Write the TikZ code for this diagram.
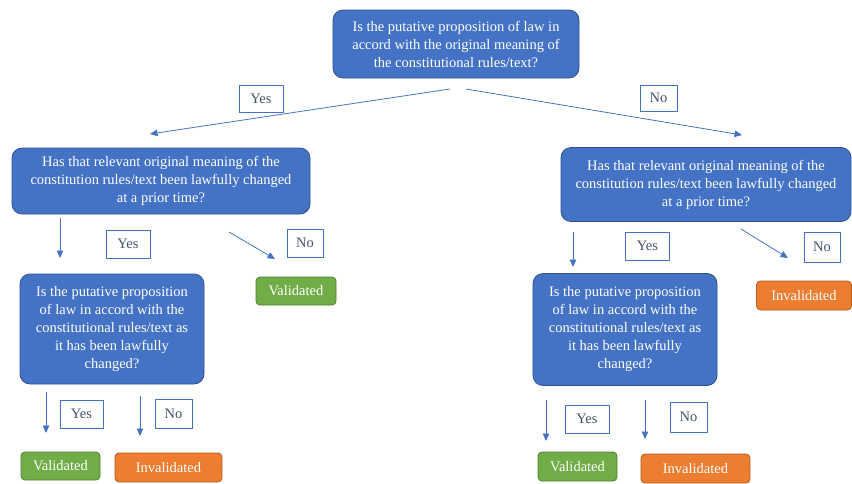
\documentclass[tikz,border=0pt]{standalone}
\usepackage{fontspec}
\setmainfont{Liberation Serif}
\usetikzlibrary{arrows.meta}
\definecolor{qblue}{HTML}{4472C4}
\definecolor{qedge}{HTML}{2F528F}
\definecolor{vgreen}{HTML}{70AD47}
\definecolor{vgedge}{HTML}{507E32}
\definecolor{iorange}{HTML}{ED7D31}
\definecolor{ioedge}{HTML}{AE5A21}
\definecolor{lbltext}{HTML}{44546A}
\tikzset{
  qbox/.style={draw=qedge, line width=0.8pt, fill=qblue, rounded corners=10pt, text=white, align=center, inner sep=0pt, font=\fontsize{14.5}{18}\selectfont},
  lbl/.style={draw=qblue, line width=0.9pt, fill=white, text=lbltext, inner sep=0pt, font=\fontsize{14.5}{16}\selectfont},
  okbox/.style={draw=vgedge, line width=0.8pt, fill=vgreen, rounded corners=4pt, text=white, inner sep=0pt, font=\fontsize{14.5}{16}\selectfont},
  badbox/.style={draw=ioedge, line width=0.8pt, fill=iorange, rounded corners=4pt, text=white, inner sep=0pt, font=\fontsize{14.5}{16}\selectfont},
  conn/.style={draw=qblue, line width=0.8pt, -{Triangle[width=6.5pt,length=7.5pt]}}
}
\begin{document}
\begin{tikzpicture}[x=1pt,y=-1pt]
\useasboundingbox (0,0) rectangle (852,483);
% question boxes
\node[qbox, minimum width=246pt, minimum height=68pt] (top) at (456,44) {Is the putative proposition of law in\\accord with the original meaning of\\the constitutional rules/text?};
\node[qbox, minimum width=298pt, minimum height=66pt] (l1) at (161,181) {Has that relevant original meaning of the\\constitution rules/text been lawfully changed\\at a prior time?};
\node[qbox, minimum width=290pt, minimum height=74pt] (r1) at (706,184.5) {Has that relevant original meaning of the\\constitution rules/text been lawfully changed\\at a prior time?};
\node[qbox, minimum width=184pt, minimum height=110pt] (l2) at (112,329) {Is the putative proposition\\of law in accord with the\\constitutional rules/text as\\it has been lawfully\\changed?};
\node[qbox, minimum width=184pt, minimum height=112pt] (r2) at (625,329.5) {Is the putative proposition\\of law in accord with the\\constitutional rules/text as\\it has been lawfully\\changed?};
% result boxes
\node[okbox, minimum width=80pt, minimum height=28pt] (lv1) at (296,291) {Validated};
\node[badbox, minimum width=95pt, minimum height=29pt] (ri1) at (804,295.5) {Invalidated};
\node[okbox, minimum width=79pt, minimum height=28pt] (lv2) at (60.5,466) {Validated};
\node[badbox, minimum width=107pt, minimum height=29pt] (li2) at (168.5,467.5) {Invalidated};
\node[okbox, minimum width=79pt, minimum height=29pt] (rv2) at (577.5,466.5) {Validated};
\node[badbox, minimum width=109pt, minimum height=29pt] (ri2) at (695.5,468.5) {Invalidated};
% labels
\node[lbl, minimum width=44pt, minimum height=27pt] (yt) at (261,98.5) {Yes};
\node[lbl, minimum width=37pt, minimum height=26pt] (nt) at (658.5,98) {No};
\node[lbl, minimum width=44pt, minimum height=28pt] (yl1) at (128,244) {Yes};
\node[lbl, minimum width=36pt, minimum height=28pt] (nl1) at (305,243) {No};
\node[lbl, minimum width=44pt, minimum height=28pt] (yr1) at (647.5,246) {Yes};
\node[lbl, minimum width=36pt, minimum height=30pt] (nr1) at (822,247) {No};
\node[lbl, minimum width=43pt, minimum height=28pt] (yl2) at (81.5,414) {Yes};
\node[lbl, minimum width=37pt, minimum height=29pt] (nl2) at (173.5,413.5) {No};
\node[lbl, minimum width=44pt, minimum height=28pt] (yr2) at (587,419) {Yes};
\node[lbl, minimum width=37pt, minimum height=30pt] (nr2) at (688.5,417) {No};
% connector end points
\coordinate (t1s) at (450,89);  \coordinate (t1e) at (150,134);
\coordinate (t2s) at (466,89);  \coordinate (t2e) at (742,135);
\coordinate (l1as) at (60,218); \coordinate (l1ae) at (60,258);
\coordinate (l1bs) at (229,232); \coordinate (l1be) at (275,259);
\coordinate (r1as) at (573,232); \coordinate (r1ae) at (573,267);
\coordinate (r1bs) at (741,229); \coordinate (r1be) at (788,258);
\coordinate (l2as) at (46,392); \coordinate (l2ae) at (46,433);
\coordinate (l2bs) at (140,396); \coordinate (l2be) at (140,436);
\coordinate (r2as) at (546,400); \coordinate (r2ae) at (546,441);
\coordinate (r2bs) at (645,400); \coordinate (r2be) at (645,439);
\draw[conn] (t1s) -- (t1e);
\draw[conn] (t2s) -- (t2e);
\draw[conn] (l1as) -- (l1ae);
\draw[conn] (l1bs) -- (l1be);
\draw[conn] (r1as) -- (r1ae);
\draw[conn] (r1bs) -- (r1be);
\draw[conn] (l2as) -- (l2ae);
\draw[conn] (l2bs) -- (l2be);
\draw[conn] (r2as) -- (r2ae);
\draw[conn] (r2bs) -- (r2be);
\end{tikzpicture}
\end{document}
